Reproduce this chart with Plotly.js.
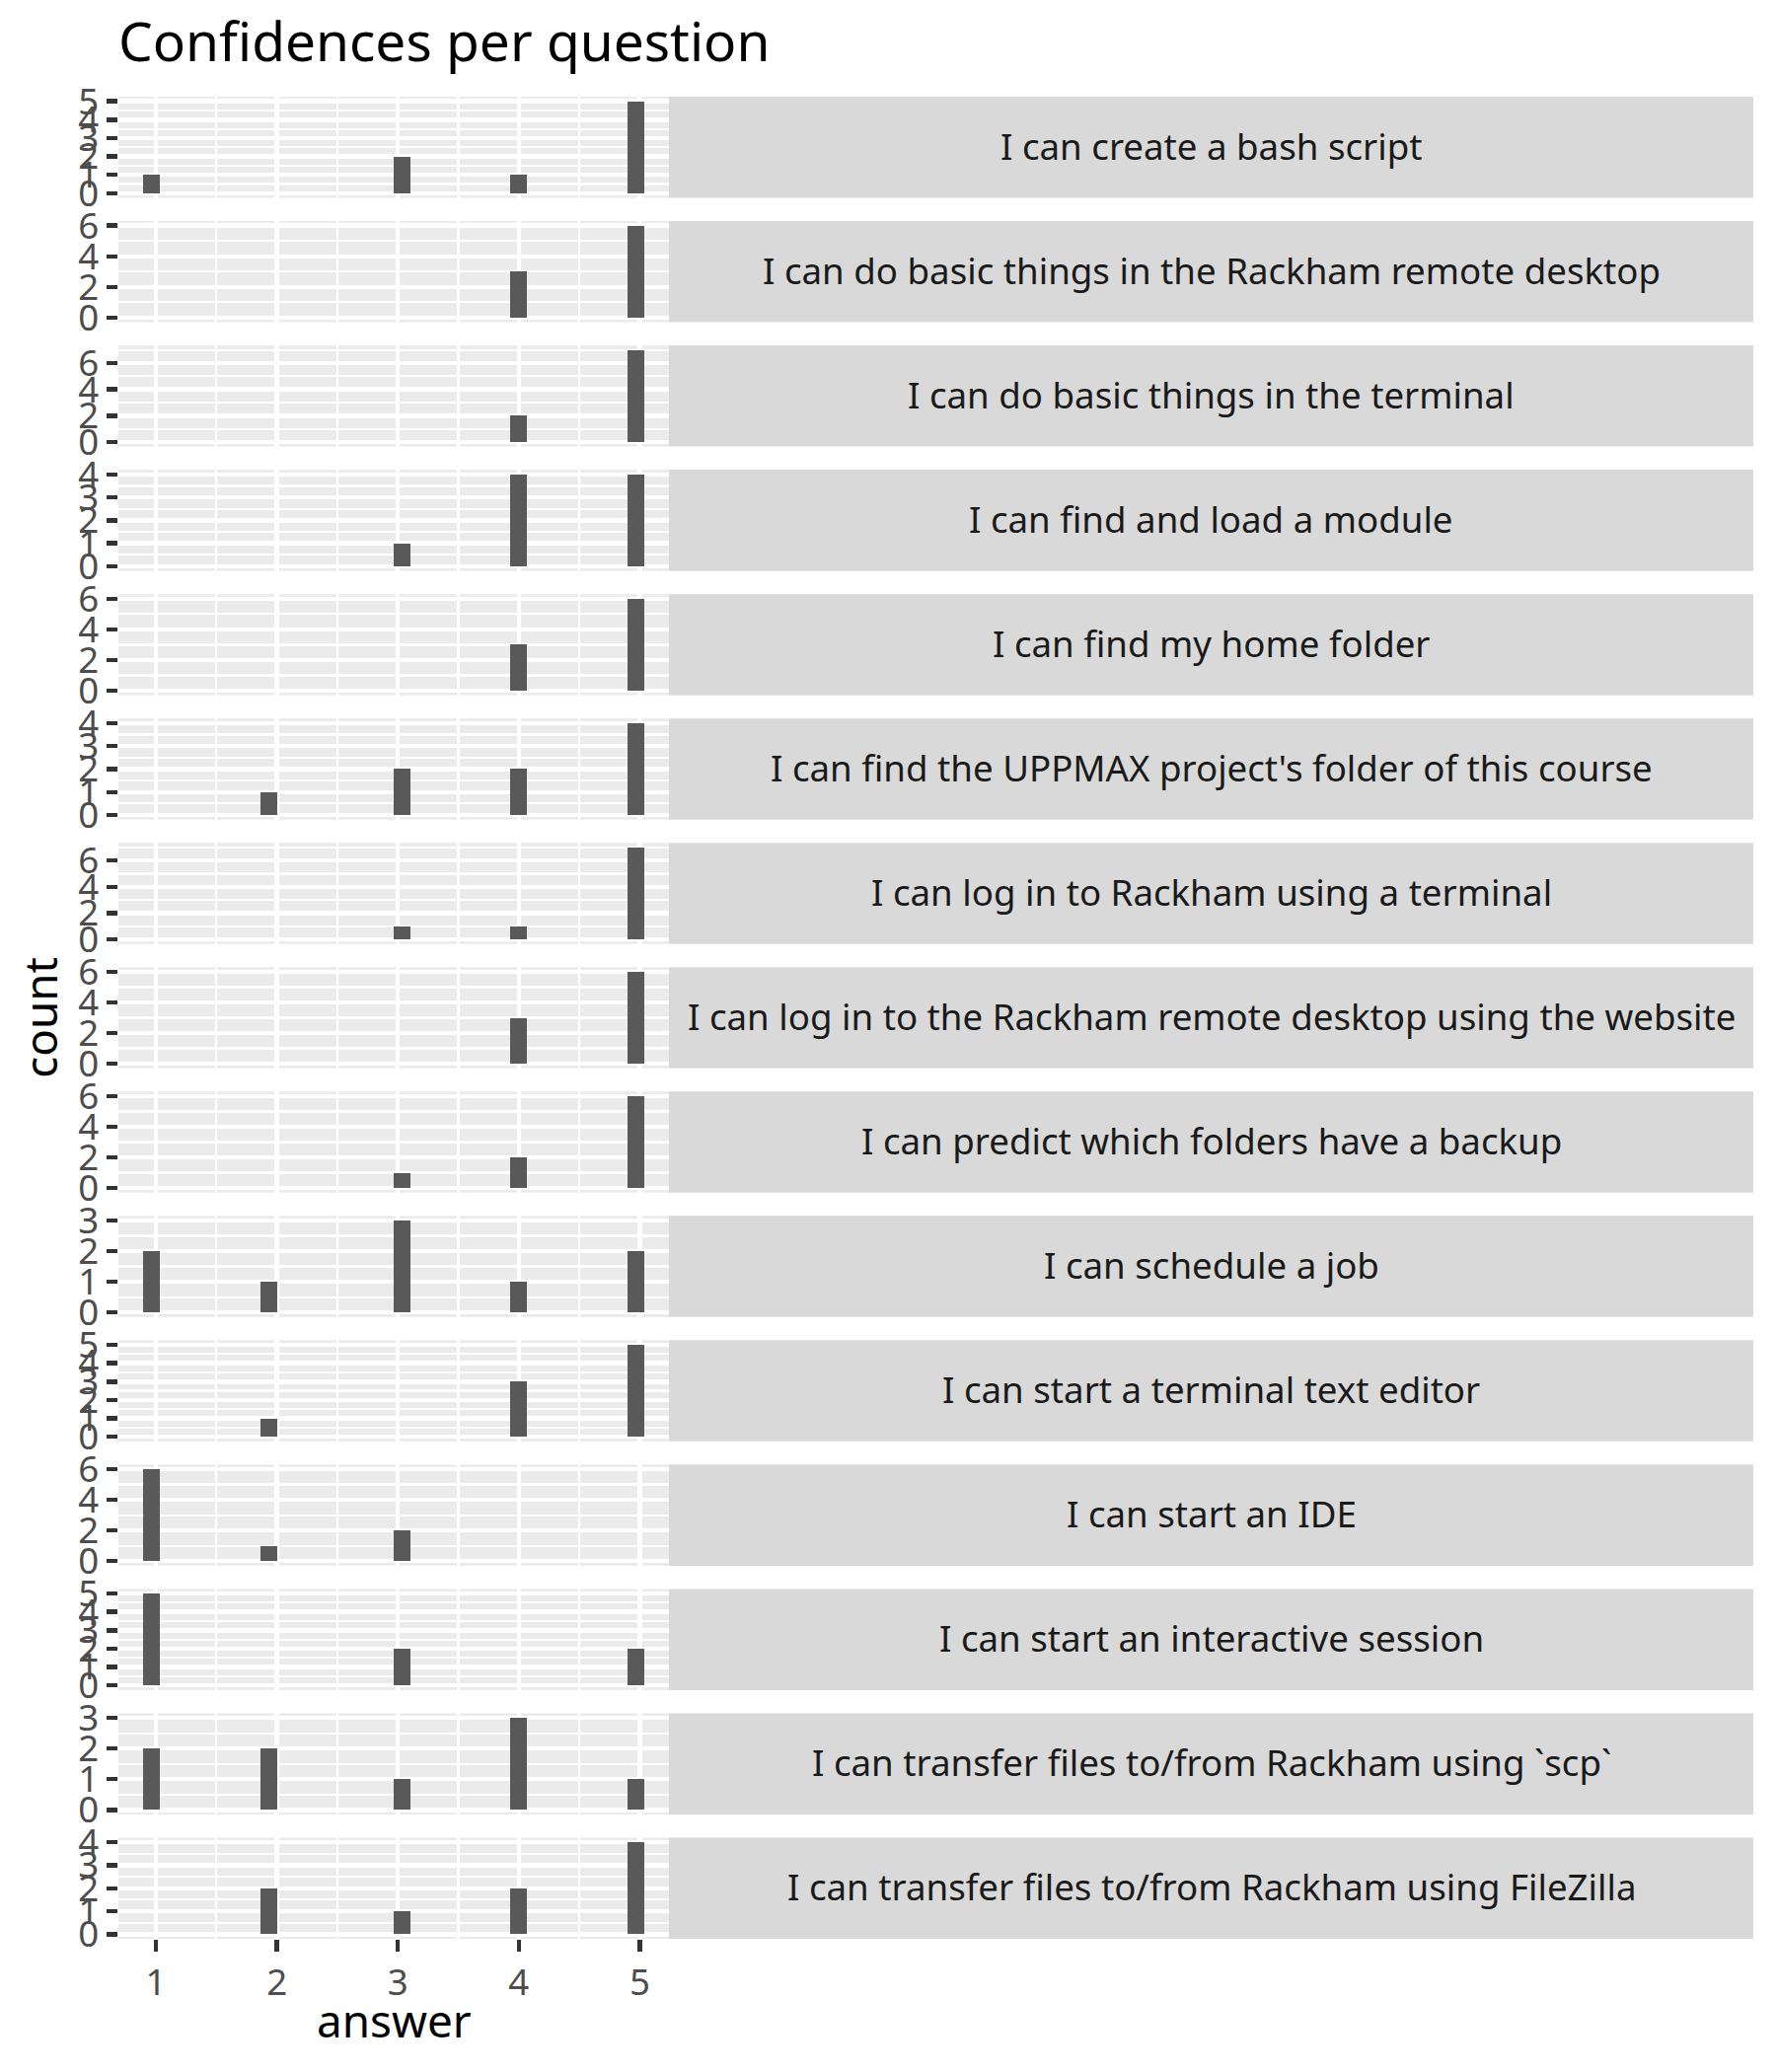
<!DOCTYPE html>
<html>
<head>
<meta charset="utf-8">
<script src="https://cdn.plot.ly/plotly-3.0.1.min.js"></script>
<style>
  html, body { margin: 0; padding: 0; background: #ffffff; }
  #chart { width: 1800px; height: 2100px; }
</style>
</head>
<body>
<div id="chart"></div>
<script>
// ---------------- data ----------------
const chartTitle = "Confidences per question";
const xTitle = "answer";
const yTitle = "count";
const answers = [1, 2, 3, 4, 5];
const questions = [
  "I can create a bash script",
  "I can do basic things in the Rackham remote desktop",
  "I can do basic things in the terminal",
  "I can find and load a module",
  "I can find my home folder",
  "I can find the UPPMAX project's folder of this course",
  "I can log in to Rackham using a terminal",
  "I can log in to the Rackham remote desktop using the website",
  "I can predict which folders have a backup",
  "I can schedule a job",
  "I can start a terminal text editor",
  "I can start an IDE",
  "I can start an interactive session",
  "I can transfer files to/from Rackham using `scp`",
  "I can transfer files to/from Rackham using FileZilla"
];
// counts of answers 1..5 for each question
const bashScript        = [1, 0, 2, 1, 5];
const remoteDesktopUse  = [0, 0, 0, 3, 6];
const terminalBasics    = [0, 0, 0, 2, 7];
const loadModule        = [0, 0, 1, 4, 4];
const homeFolder        = [0, 0, 0, 3, 6];
const projectFolder     = [0, 1, 2, 2, 4];
const loginTerminal     = [0, 0, 1, 1, 7];
const loginWebsite      = [0, 0, 0, 3, 6];
const backupFolders     = [0, 0, 1, 2, 6];
const scheduleJob       = [2, 1, 3, 1, 2];
const textEditor        = [0, 1, 0, 3, 5];
const startIDE          = [6, 1, 2, 0, 0];
const interactiveSess   = [5, 0, 2, 0, 2];
const transferScp       = [2, 2, 1, 3, 1];
const transferFileZilla = [0, 2, 1, 2, 4];
const countSeries = [bashScript, remoteDesktopUse, terminalBasics, loadModule, homeFolder,
  projectFolder, loginTerminal, loginWebsite, backupFolders, scheduleJob, textEditor,
  startIDE, interactiveSess, transferScp, transferFileZilla];

// ---------------- histogram binning (30 bins, right-closed, like ggplot2) ----------------
const nBins = 30;
const xMin = Math.min(...answers), xMax = Math.max(...answers);
const binW = (xMax - xMin) / (nBins - 1);
const boundary = binW / 2;
const origin = boundary + Math.floor((xMin - boundary) / binW) * binW;
const nB = Math.floor((xMax + (1 - 1e-8) * binW - origin) / binW);
const binLo = origin, binHi = origin + nB * binW;
function binCenter(v) {
  const k = Math.ceil((v - origin) / binW - 1e-7) - 1;
  return origin + (k + 0.5) * binW;
}
const xPad = 0.05 * (binHi - binLo);
const xRange = [binLo - xPad, binHi + xPad];

// ---------------- geometry ----------------
const W = 1800, H = 2100;
const mL = 120, mR = 23, mT = 98, mB = 135;
const plotW = W - mL - mR, plotH = H - mT - mB;
const panelRight = 678;
const xDomEnd = (panelRight - mL) / plotW;
const gapPx = 23.5;
const nP = questions.length;
const panelH = (plotH - (nP - 1) * gapPx) / nP;

const FONT = "Noto Sans";
const majorW = 4.44, minorW = 2.22;

const data = [];
const layout = {
  width: W, height: H,
  margin: { l: mL, r: mR, t: mT, b: mB, pad: 0 },
  paper_bgcolor: "#ffffff",
  plot_bgcolor: "#EBEBEB",
  showlegend: false,
  bargap: 0,
  font: { family: FONT, color: "#4D4D4D" },
  title: {
    text: chartTitle,
    font: { family: FONT, size: 55, color: "#000000" },
    xref: "paper", x: 0, xanchor: "left",
    yref: "container", y: 1 - 23.5 / H, yanchor: "top"
  },
  shapes: [],
  annotations: []
};

for (let i = 0; i < nP; i++) {
  const k = i + 1;
  const sfx = k === 1 ? "" : String(k);
  const topPx = i * (panelH + gapPx);
  const botPx = topPx + panelH;
  const d1 = 1 - topPx / plotH, d0 = 1 - botPx / plotH;
  const counts = countSeries[i];
  const yMaxV = Math.max(...counts);
  const step = yMaxV <= 5 ? 1 : 2;
  const majors = [];
  for (let v = 0; v <= yMaxV + 1e-9; v += step) majors.push(v);
  const yRange = [-0.05 * yMaxV, 1.05 * yMaxV];
  const minors = [];
  for (let v = -step / 2; v <= majors[majors.length - 1] + step; v += step) {
    if (v > yRange[0] && v < yRange[1]) minors.push(v);
  }
  const isBottom = k === nP;

  layout["xaxis" + sfx] = {
    domain: [0, xDomEnd], anchor: "y" + sfx, range: xRange,
    tickmode: "array", tickvals: answers, ticktext: answers.map(String),
    showticklabels: isBottom, ticks: isBottom ? "outside" : "",
    ticklen: 11.5, tickwidth: majorW, tickcolor: "#333333",
    tickfont: { family: FONT, size: 36.67, color: "#4D4D4D" },
    showgrid: true, gridcolor: "#ffffff", gridwidth: majorW,
    minor: { tickmode: "array", tickvals: [1.5, 2.5, 3.5, 4.5], showgrid: true,
             gridcolor: "#ffffff", gridwidth: minorW, ticks: "" },
    zeroline: false, showline: false, fixedrange: true
  };
  layout["yaxis" + sfx] = {
    domain: [d0, d1], anchor: "x" + sfx, range: yRange,
    tickmode: "array", tickvals: majors, ticktext: majors.map(String),
    ticks: "outside", ticklen: 11.5, tickwidth: majorW, tickcolor: "#333333",
    tickfont: { family: FONT, size: 36.67, color: "#4D4D4D" },
    showgrid: true, gridcolor: "#ffffff", gridwidth: majorW,
    minor: { tickmode: "array", tickvals: minors, showgrid: true,
             gridcolor: "#ffffff", gridwidth: minorW, ticks: "" },
    zeroline: false, showline: false, fixedrange: true
  };

  data.push({
    type: "bar",
    x: answers.map(binCenter),
    y: counts,
    width: binW,
    marker: { color: "#595959", line: { width: 0 } },
    xaxis: "x" + sfx, yaxis: "y" + sfx,
    hoverinfo: "skip"
  });

  layout.shapes.push({
    type: "rect", xref: "paper", yref: "paper",
    x0: xDomEnd, x1: 1, y0: d0, y1: d1,
    fillcolor: "#D9D9D9", line: { width: 0 }, layer: "below"
  });
  layout.annotations.push({
    xref: "paper", yref: "paper",
    x: (xDomEnd + 1) / 2, y: (d0 + d1) / 2,
    text: questions[i], showarrow: false,
    xanchor: "center", yanchor: "middle", yshift: 1.5,
    font: { family: FONT, size: 36.67, color: "#1A1A1A" }
  });
}

// axis titles
layout.annotations.push({
  xref: "paper", yref: "paper",
  x: (xDomEnd / 2), y: (H - mB - (2065 - 17.8)) / plotH,
  text: xTitle, showarrow: false, xanchor: "center", yanchor: "middle",
  font: { family: FONT, size: 45.8, color: "#000000" }
});
layout.annotations.push({
  xref: "paper", yref: "paper",
  x: (39.2 - mL) / plotW, y: 0.5,
  text: yTitle, showarrow: false, textangle: -90,
  xanchor: "center", yanchor: "middle",
  font: { family: FONT, size: 45.8, color: "#000000" }
});

Plotly.newPlot("chart", data, layout, { staticPlot: true, displayModeBar: false });
</script>
</body>
</html>
